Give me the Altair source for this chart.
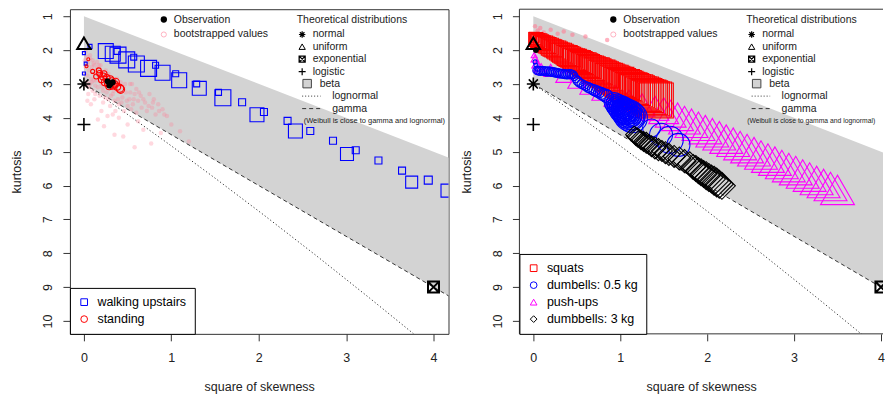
import altair as alt
import pandas as pd

FONT = "Liberation Sans"
INK = "#222222"

# ---------------- theoretical reference (Cullen-Frey) ----------------
beta_skew2 = [0.0, 4.4]
beta_kurt_top = [1.0, 5.4]
beta_kurt_bottom = [3.0, 9.6]
gamma_skew2 = [0.0, 4.4]
gamma_kurt = [3.0, 9.6]
lognormal_skew2 = [0.0, 0.091, 0.465, 0.961, 1.488, 2.048, 2.641, 3.267, 3.659, 3.928]
lognormal_kurt = [3.0, 3.162, 3.838, 4.756, 5.758, 6.850, 8.035, 9.320, 10.141, 10.710]
theo_name = ["normal", "uniform", "exponential", "logistic"]
theo_skew2 = [0.0, 0.0, 4.0, 0.0]
theo_kurt = [3.0, 1.8, 9.0, 4.2]

# ---------------- left panel ----------------
up_skew2 = [0.07, 0.25, 0.33, 0.38, 0.39, 0.49, 0.57, 0.60, 0.74, 0.82, 0.90, 1.05, 1.09, 1.29, 1.32,
            1.54, 1.59, 1.81, 1.98, 2.06, 2.33, 2.42, 2.59, 2.85, 3.01, 3.11, 3.37, 3.64, 3.75, 3.94,
            4.16, 0.00, 0.00, 0.02]
up_kurt = [1.89, 2.03, 2.11, 2.04, 2.15, 2.29, 2.21, 2.41, 2.54, 2.45, 2.67, 2.70, 2.89, 3.00, 3.13,
           3.25, 3.41, 3.54, 3.91, 3.83, 4.09, 4.39, 4.39, 4.68, 5.07, 4.96, 5.26, 5.56, 5.90, 5.84,
           6.15, 2.09, 2.69, 2.40]
up_w = [4, 15, 15, 6, 16, 16, 6, 16, 16, 6, 15, 6, 15, 6, 14,
        6, 16, 7, 14, 7, 7, 14, 7, 7, 13, 7, 7, 7, 12, 8,
        13, 3, 3, 3]

stand_skew2 = [0.18, 0.22, 0.26, 0.32, 0.35, 0.41, 0.29, 0.05, 0.03, 0.10, 0.42, 0.17, 0.24, 0.30,
               0.27, 0.36, 0.33, 0.20, 0.14, 0.38, 0.23]
stand_kurt = [2.69, 2.78, 2.83, 2.92, 3.01, 3.13, 3.07, 2.27, 2.48, 2.63, 3.16, 2.60, 2.95, 2.86,
              3.00, 2.95, 3.05, 2.88, 2.78, 3.08, 2.70]
stand_w = [6, 7, 7, 7, 7, 8, 7, 3, 3, 4, 8, 5, 7, 7, 6, 8, 7, 6, 5, 7, 6]

obsL_skew2 = [0.27, 0.31, 0.29, 0.33, 0.30]
obsL_kurt = [2.92, 2.98, 3.05, 2.95, 3.02]

bootL_skew2 = [0.02, 0.03, 0.05, 0.02, 0.06, 0.04, 0.08, 0.03, 0.06, 0.10, 0.05,
               0.10, 0.12, 0.15, 0.12, 0.18, 0.14, 0.20, 0.16, 0.22, 0.18, 0.12,
               0.25, 0.28, 0.24, 0.30, 0.26, 0.33, 0.28, 0.22, 0.35, 0.30,
               0.38, 0.42, 0.45, 0.40, 0.48, 0.44, 0.52, 0.40, 0.50, 0.46, 0.36,
               0.55, 0.60, 0.58, 0.65, 0.62, 0.70, 0.56, 0.66, 0.60, 0.72,
               0.75, 0.80, 0.85, 0.78, 0.90, 0.82, 0.95,
               0.58, 0.77, 0.23, 0.16, 0.40, 0.27, 1.10, 0.50, 0.68, 0.88, 0.35, 1.00, 0.20, 0.08,
               1.20, 0.45, 0.62,
               0.07, 0.11, 0.15, 0.09, 0.13, 0.19, 0.04, 0.33, 0.53,
               0.01, 0.01, 0.02, 0.04, 0.07, 0.09, 0.07, 0.11, 0.13, 0.17, 0.20, 0.21, 0.24, 0.27,
               0.31, 0.34, 0.37, 0.39, 0.43, 0.47, 0.49, 0.53, 0.57, 0.63, 0.68, 0.74, 0.79, 0.86,
               0.92, 0.54]
bootL_kurt = [2.05, 2.20, 2.35, 2.50, 2.60, 2.75, 2.85, 2.95, 3.10, 3.20, 3.30,
              2.30, 2.45, 2.55, 2.70, 2.75, 2.90, 3.00, 3.10, 3.20, 3.35, 3.45,
              2.60, 2.70, 2.85, 3.10, 3.25, 3.30, 3.45, 3.55, 3.50, 3.65,
              2.85, 2.95, 3.10, 3.20, 3.25, 3.40, 3.45, 3.60, 3.65, 3.80, 3.80,
              3.00, 3.15, 3.30, 3.35, 3.50, 3.55, 3.60, 3.70, 3.85, 3.80,
              3.30, 3.45, 3.60, 3.70, 3.75, 3.90, 3.95,
              4.87, 4.76, 4.25, 4.05, 4.00, 3.95, 4.40, 4.20, 4.35, 4.45, 4.50, 4.20, 3.80, 3.60,
              4.70, 4.55, 4.10,
              2.15, 2.40, 2.35, 2.95, 3.05, 2.45, 3.50, 3.90, 3.00,
              2.30, 2.70, 3.05, 2.45, 2.25, 2.50, 3.00, 2.90, 3.30, 2.45, 2.65, 3.10, 3.40, 2.80,
              3.35, 3.20, 3.00, 3.45, 3.55, 3.00, 3.50, 3.25, 3.45, 3.25, 3.45, 3.65, 3.55, 3.80,
              3.90, 3.75]

# ---------------- right panel ----------------
push_skew2 = [0.01, 0.02, 0.04, 0.06, 0.09,
              0.20, 0.35, 0.50, 0.65, 0.80, 0.95, 1.10, 1.25, 1.40,
              1.50, 1.58, 1.66, 1.74, 1.82, 1.90, 1.98, 2.06, 2.14, 2.22, 2.30, 2.38, 2.46,
              2.54, 2.62, 2.70, 2.78, 2.86, 2.94, 3.02, 3.10, 3.18, 3.26, 3.34, 3.42, 3.50]
push_kurt = [2.15, 2.25, 2.40, 2.50, 2.55,
             2.60, 2.75, 2.90, 3.05, 3.20, 3.35, 3.50, 3.62, 3.72,
             3.79, 3.88, 3.97, 4.07, 4.16, 4.25, 4.35, 4.44, 4.53, 4.63, 4.72, 4.82, 4.91,
             5.00, 5.10, 5.19, 5.28, 5.38, 5.47, 5.56, 5.66, 5.75, 5.85, 5.94, 6.03, 6.13]
push_w = [6, 8, 10, 10, 12,
          14, 16, 18, 20, 22, 24, 25, 26, 28,
          30, 31, 32, 32, 33, 33, 33, 33, 33, 33, 33, 33, 33,
          33, 33, 33, 33, 33, 33, 33, 33, 33, 33, 33, 33, 34]

squat_skew2 = [0.01, 0.02, 0.04, 0.06, 0.08, 0.10, 0.12,
               0.03, 0.05, 0.07, 0.09, 0.11, 0.13, 0.15, 0.17, 0.19, 0.21, 0.23, 0.25, 0.27, 0.29,
               0.31, 0.33, 0.35, 0.37, 0.39, 0.41, 0.43, 0.45, 0.47, 0.49, 0.51, 0.53, 0.55, 0.57,
               0.59, 0.61, 0.63, 0.65, 0.67, 0.69, 0.71, 0.73, 0.75, 0.77, 0.79, 0.81, 0.83, 0.85,
               0.87, 0.89, 0.91, 0.93, 0.95, 0.97, 0.99, 1.01, 1.03, 1.05, 1.07, 1.09, 1.11, 1.13,
               1.15, 1.17, 1.19, 1.21, 1.23, 1.25, 1.27, 1.29, 1.31, 1.33, 1.35, 1.37, 1.39, 1.41]
squat_kurt = [1.62, 1.66, 1.70, 1.72, 1.76, 1.78, 1.81,
              1.69, 1.72, 1.74, 1.77, 1.80, 1.82, 1.85, 1.87, 1.90, 1.93, 1.95, 1.98, 2.00, 2.03,
              2.06, 2.08, 2.11, 2.14, 2.16, 2.19, 2.21, 2.24, 2.27, 2.29, 2.32, 2.34, 2.37, 2.40,
              2.42, 2.45, 2.47, 2.50, 2.53, 2.55, 2.58, 2.60, 2.63, 2.66, 2.68, 2.71, 2.73, 2.76,
              2.79, 2.81, 2.84, 2.86, 2.89, 2.92, 2.94, 2.97, 3.00, 3.02, 3.05, 3.07, 3.10, 3.13,
              3.15, 3.18, 3.20, 3.23, 3.26, 3.28, 3.31, 3.33, 3.36, 3.39, 3.41, 3.44, 3.46, 3.49]
squat_w = [10, 12, 12, 13, 13, 14, 14,
           14, 14, 15, 15, 15, 16, 16, 16, 17, 17, 17, 17, 18, 18,
           18, 19, 19, 19, 20, 20, 20, 20, 21, 21, 21, 22, 22, 22,
           23, 23, 23, 23, 24, 24, 24, 25, 25, 25, 26, 26, 26, 26,
           27, 27, 27, 28, 28, 28, 29, 29, 29, 30, 30, 30, 30, 31,
           31, 31, 32, 32, 32, 33, 33, 33, 33, 34, 34, 34, 35, 35]

db05_skew2 = [0.02, 0.03, 0.05,
              0.04, 0.06, 0.08, 0.10, 0.12, 0.14, 0.16, 0.18, 0.20, 0.22, 0.24, 0.26, 0.28, 0.30,
              0.32, 0.34, 0.36, 0.38, 0.40, 0.42, 0.44, 0.46,
              0.47, 0.49, 0.51, 0.53, 0.555, 0.58, 0.605, 0.63, 0.655, 0.68, 0.705, 0.73, 0.755,
              0.78, 0.805, 0.83, 0.85,
              0.93, 0.93, 0.93, 0.93, 0.93,
              0.96, 0.96, 0.96, 0.96, 0.96,
              0.99, 0.99, 0.99, 0.99, 0.99, 0.99,
              1.02, 1.02, 1.02, 1.02, 1.02, 1.02,
              1.05, 1.05, 1.05, 1.05, 1.05, 1.05, 1.05,
              1.08, 1.08, 1.08, 1.08, 1.08, 1.08, 1.08,
              1.11, 1.11, 1.11, 1.11, 1.11, 1.11, 1.11, 1.11,
              1.14, 1.14, 1.14, 1.14, 1.14,
              1.36, 1.47, 1.57, 1.67]
db05_kurt = [2.35, 2.45, 2.55,
             2.60, 2.61, 2.62, 2.61, 2.62, 2.63, 2.64, 2.63, 2.64, 2.65, 2.66, 2.67, 2.68, 2.69,
             2.70, 2.70, 2.71, 2.72, 2.72, 2.71, 2.72, 2.73,
             2.78, 2.85, 2.91, 2.96, 3.00, 3.04, 3.07, 3.10, 3.13, 3.16, 3.19, 3.22, 3.25,
             3.28, 3.31, 3.34, 3.37,
             3.55, 3.55, 3.55, 3.55, 3.55,
             3.62, 3.62, 3.62, 3.62, 3.62,
             3.68, 3.68, 3.68, 3.68, 3.68, 3.68,
             3.75, 3.75, 3.75, 3.75, 3.75, 3.75,
             3.81, 3.81, 3.81, 3.81, 3.81, 3.81, 3.81,
             3.88, 3.88, 3.88, 3.88, 3.88, 3.88, 3.88,
             3.94, 3.94, 3.94, 3.94, 3.94, 3.94, 3.94, 3.94,
             4.00, 4.00, 4.00, 4.00, 4.00,
             4.30, 4.50, 4.65, 4.80]
db05_w = [4, 4, 5,
          8, 9, 9, 9, 9, 9, 9, 9, 9, 9, 9, 9, 9, 9,
          9, 9, 9, 9, 9, 9, 9, 8,
          8, 8, 9, 9, 9, 9, 9, 10, 10, 10, 11, 11, 11,
          12, 12, 13, 13,
          4, 8, 12, 16, 20,
          6, 10, 14, 18, 22,
          4, 8, 12, 16, 20, 24,
          6, 10, 14, 18, 22, 26,
          4, 8, 12, 16, 20, 24, 27,
          6, 10, 14, 18, 22, 26, 29,
          4, 8, 12, 16, 20, 24, 28, 31,
          6, 12, 18, 24, 30,
          18, 23, 27, 23]

db3_skew2 = [1.16, 1.18, 1.20, 1.22, 1.24, 1.27, 1.30, 1.33, 1.36, 1.40, 1.44, 1.48, 1.52, 1.56,
             1.62, 1.68, 1.74, 1.80,
             1.84, 1.87, 1.90, 1.93, 1.96, 1.99, 2.02, 2.05, 2.08, 2.11, 2.14, 2.17]
db3_kurt = [4.50, 4.55, 4.58, 4.62, 4.66, 4.70, 4.74, 4.79, 4.84, 4.89, 4.94, 4.98, 5.03, 5.08,
            5.14, 5.20, 5.28, 5.36,
            5.45, 5.50, 5.56, 5.61, 5.66, 5.71, 5.76, 5.81, 5.86, 5.91, 5.96, 6.01]
db3_w = [17, 18, 19, 18, 19, 20, 21, 20, 21, 22, 22, 21, 22, 22,
         22, 23, 23, 24,
         25, 26, 26, 27, 27, 28, 28, 28, 29, 29, 28, 27]

obsR_skew2 = [0.03]
obsR_kurt = [2.0]

bootR_skew2 = [0.02, 0.05, 0.08, 0.12, 0.20, 0.28, 0.35, 0.45, 0.60, 0.85, 0.04, 0.15]
bootR_kurt = [1.30, 1.42, 1.35, 1.48, 1.40, 1.52, 1.45, 1.55, 1.60, 1.70, 1.55, 1.60]

# ---------------- tables ----------------
beta_df = pd.DataFrame({"s2": beta_skew2, "top": beta_kurt_top, "bottom": beta_kurt_bottom})
gamma_df = pd.DataFrame({"s2": gamma_skew2, "k": gamma_kurt})
lognormal_df = pd.DataFrame({"s2": lognormal_skew2, "k": lognormal_kurt})
theo_df = pd.DataFrame({"name": theo_name, "s2": theo_skew2, "k": theo_kurt})

left_names = ["walking upstairs", "standing"]
left_df = pd.DataFrame({
    "s2": up_skew2 + stand_skew2,
    "k": up_kurt + stand_kurt,
    "w": up_w + stand_w,
    "series": [left_names[0]] * len(up_skew2) + [left_names[1]] * len(stand_skew2),
})
right_names = ["squats", "dumbells: 0.5 kg", "push-ups", "dumbbells: 3 kg"]
right_df = pd.DataFrame({
    "s2": push_skew2 + squat_skew2 + db05_skew2 + db3_skew2,
    "k": push_kurt + squat_kurt + db05_kurt + db3_kurt,
    "w": push_w + squat_w + db05_w + db3_w,
    "series": [right_names[2]] * len(push_skew2) + [right_names[0]] * len(squat_skew2)
    + [right_names[1]] * len(db05_skew2) + [right_names[3]] * len(db3_skew2),
})
bootL_df = pd.DataFrame({"s2": bootL_skew2, "k": bootL_kurt})
bootR_df = pd.DataFrame({"s2": bootR_skew2, "k": bootR_kurt})
obsL_df = pd.DataFrame({"s2": obsL_skew2, "k": obsL_kurt})
obsR_df = pd.DataFrame({"s2": obsR_skew2, "k": obsR_kurt})
one = pd.DataFrame({"a": [0]})

# ---------------- encodings ----------------
PLOT_H = 325
LEFT_W = 379
RIGHT_W = 364
YDOM = [0.794, 10.38]
XAXIS = alt.Axis(title="square of skewness", values=[0, 1, 2, 3, 4], format="d", tickSize=7,
                 labelPadding=11, titlePadding=16, domain=False, grid=False, labelFlush=False)
YAXIS = alt.Axis(title="kurtosis", values=list(range(1, 11)), format="d", tickSize=7,
                 labelAngle=270, labelAlign="center", labelBaseline="bottom", labelPadding=8,
                 titlePadding=18, domain=False, grid=False, labelFlush=False, labelOverlap=False)

SIZE = alt.Size("w:Q", scale=alt.Scale(type="pow", exponent=2, domain=[0, 40], range=[0, 1600]),
                legend=None)

ASTER = "M-1,0L1,0M0,-1L0,1M-0.7,-0.7L0.7,0.7M-0.7,0.7L0.7,-0.7"
PLUS = "M-1,0L1,0M0,-1L0,1"
BOXX = "M-1,-1L1,-1L1,1L-1,1ZM-1,-1L1,1M-1,1L1,-1"


def ann_text(x, y, s, size=10.5):
    return alt.Chart(one).mark_text(align="left", baseline="middle", font=FONT, fontSize=size,
                                    color=INK).encode(x=alt.value(x), y=alt.value(y),
                                                      text=alt.value(s))


def ann_sym(x, y, shape, size, filled=False, color="black", sw=1.0):
    return alt.Chart(one).mark_point(shape=shape, size=size, filled=filled, color=color,
                                     strokeWidth=sw, opacity=1).encode(x=alt.value(x),
                                                                        y=alt.value(y))


def ann_rule(x1, x2, y, dash):
    return alt.Chart(one).mark_rule(color="#333333", strokeDash=dash, strokeWidth=1).encode(
        x=alt.value(x1), x2=alt.value(x2), y=alt.value(y))


def annotations(note_x, note_size):
    return [
        ann_sym(94, 10.3, "circle", 40, filled=True),
        ann_text(104, 10.3, "Observation"),
        ann_sym(94, 25.3, "circle", 26, color="#FFB0C0"),
        ann_text(104, 25.3, "bootstrapped values"),
        ann_text(227, 10.3, "Theoretical distributions"),
        ann_sym(232.5, 25.3, ASTER, 42, sw=1.2),
        ann_text(243, 25.3, "normal"),
        ann_sym(232.5, 37.5, "triangle-up", 40),
        ann_text(243, 37.5, "uniform"),
        ann_sym(232.5, 50, BOXX, 36, sw=1.3),
        ann_text(243, 50, "exponential"),
        ann_sym(232.5, 62.5, PLUS, 49, sw=1.2),
        ann_text(243, 62.5, "logistic"),
        alt.Chart(one).mark_square(size=72, color="#D3D3D3", stroke="#444444", strokeWidth=1,
                                   opacity=1).encode(x=alt.value(237.5), y=alt.value(74.5)),
        ann_text(250, 74.5, "beta"),
        ann_rule(232.5, 251, 87, [1, 2]),
        ann_text(262.5, 87, "lognormal"),
        ann_rule(232.5, 251, 99.5, [4, 3]),
        ann_text(262.5, 99.5, "gamma"),
        ann_text(note_x, 111.5, "(Weibull is close to gamma and lognormal)", size=note_size),
    ]


def frame_rules(width):
    c = "#333333"
    return [
        alt.Chart(one).mark_rule(color=c, strokeWidth=1).encode(
            x=alt.value(0), y=alt.value(0), y2=alt.value(PLOT_H)),
        alt.Chart(one).mark_rule(color=c, strokeWidth=1).encode(
            x=alt.value(0), x2=alt.value(width), y=alt.value(0)),
        alt.Chart(one).mark_rule(color=c, strokeWidth=1).encode(
            x=alt.value(0), x2=alt.value(width), y=alt.value(PLOT_H)),
    ]


def panel(series_df, names, colors, shapes, boot_df, boot_opacity, obs_df, width, xmax,
          open_right, note_x, note_size):
    def X(f):
        return alt.X(f + ":Q", scale=alt.Scale(domain=[-0.16, xmax], nice=False, zero=False),
                     axis=XAXIS)

    def Y(f):
        return alt.Y(f + ":Q", scale=alt.Scale(domain=YDOM, nice=False, zero=False, reverse=True),
                     axis=YAXIS)

    leg = alt.Legend(title=None, orient="bottom-left", offset=0, strokeColor="black",
                     fillColor="white", padding=8, labelFont=FONT, labelFontSize=12.5,
                     labelColor="black", symbolSize=45, symbolStrokeWidth=1, rowPadding=4,
                     labelOffset=7, cornerRadius=0)
    area = alt.Chart(beta_df).mark_area(color="#D3D3D3", opacity=1, clip=True).encode(
        x=X("s2"), y=Y("top"), y2=alt.Y2("bottom:Q"))
    logn = alt.Chart(lognormal_df).mark_line(color="#333333", strokeDash=[1.2, 2.3],
                                             strokeWidth=1, clip=True).encode(x=X("s2"), y=Y("k"))
    gam = alt.Chart(gamma_df).mark_line(color="#333333", strokeDash=[4, 3], strokeWidth=1,
                                        clip=True).encode(x=X("s2"), y=Y("k"))
    boot = alt.Chart(boot_df).mark_point(shape="circle", filled=True, size=20, color="#FF7F96",
                                         opacity=boot_opacity, clip=True).encode(x=X("s2"), y=Y("k"))
    pts = alt.Chart(series_df).mark_point(filled=False, strokeWidth=1.1, opacity=1, clip=True).encode(
        x=X("s2"), y=Y("k"),
        color=alt.Color("series:N", scale=alt.Scale(domain=names, range=colors), legend=leg),
        shape=alt.Shape("series:N", scale=alt.Scale(domain=names, range=shapes), legend=leg),
        size=SIZE)
    obs = alt.Chart(obs_df).mark_point(shape="circle", filled=True, size=34, color="black",
                                       opacity=1, clip=True).encode(x=X("s2"), y=Y("k"))

    def theo(name, shape, size, sw):
        return alt.Chart(theo_df).transform_filter(alt.datum.name == name).mark_point(
            shape=shape, size=size, filled=False, color="black", strokeWidth=sw, opacity=1,
            clip=True).encode(x=X("s2"), y=Y("k"))

    layers = [area, logn, gam, boot, pts, obs,
              theo("normal", ASTER, 169, 1.6),
              theo("uniform", "triangle-up", 180, 2),
              theo("exponential", BOXX, 121, 2),
              theo("logistic", PLUS, 169, 1.6)] + annotations(note_x, note_size)
    if open_right:
        layers += frame_rules(width)
        return alt.layer(*layers).properties(width=width, height=PLOT_H,
                                             view=alt.ViewBackground(stroke="transparent"))
    return alt.layer(*layers).properties(width=width, height=PLOT_H)


left = panel(left_df, left_names, ["#0000FF", "#FF0000"], ["square", "circle"],
             bootL_df, 0.3, obsL_df, LEFT_W, -0.16 + LEFT_W / 87.5, False, 234, 7.5)
right = panel(right_df, right_names, ["#FF0000", "#0000FF", "#FF00FF", "#000000"],
              ["square", "circle", "triangle-up", "diamond"], bootR_df, 0.6, obsR_df,
              RIGHT_W, -0.16 + RIGHT_W / 87.0, True, 228, 6.8)

chart = alt.hconcat(left, right, spacing=10).resolve_scale(
    color="independent", shape="independent").resolve_legend(
    color="independent", shape="independent").properties(
    padding={"left": 2, "top": 0, "right": 0, "bottom": 0}).configure_view(
    stroke="#333333", strokeWidth=1).configure_axis(
    labelFont=FONT, titleFont=FONT, labelFontSize=12.5, titleFontSize=12.5,
    titleFontWeight="normal", labelColor=INK, titleColor=INK, tickColor="#333333", tickWidth=1)

chart.save("out.html", embed_options={"renderer": "svg", "actions": False})
